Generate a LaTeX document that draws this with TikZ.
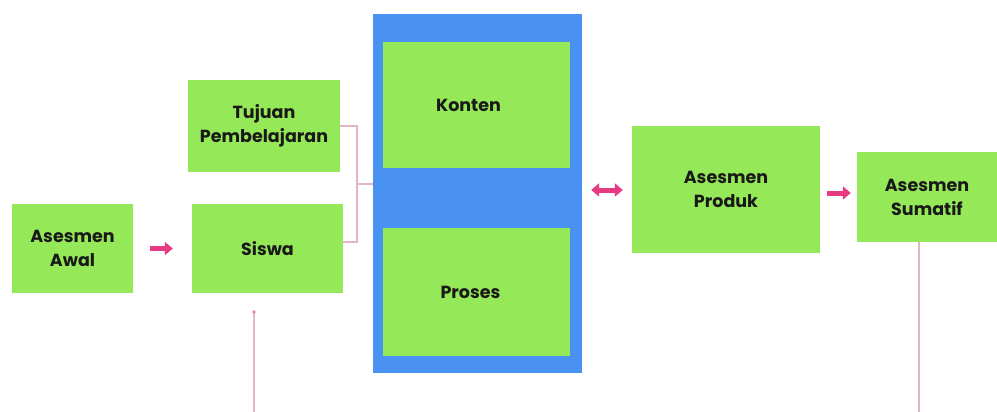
\documentclass[tikz,border=0pt]{standalone}
\usepackage{fontspec}
\setmainfont{Poppins}
\usetikzlibrary{arrows.meta}
\definecolor{boxgreen}{RGB}{149,232,88}
\definecolor{boxblue}{RGB}{74,146,242}
\definecolor{arrpink}{RGB}{232,58,130}
\definecolor{linepink}{RGB}{230,180,200}
\tikzset{
  gbox/.style={rectangle, fill=boxgreen, draw=none, inner sep=0pt, align=center,
    font=\fontsize{17.5}{24}\selectfont\bfseries, text=black!90},
  pinkarrow/.style={-{Triangle[length=8pt,width=13pt]}, line width=5pt, draw=arrpink},
  pinkdouble/.style={{Triangle[length=8pt,width=13pt]}-{Triangle[length=8pt,width=13pt]}, line width=5pt, draw=arrpink},
  thinline/.style={draw=linepink, line width=1.6pt},
}
\begin{document}
\begin{tikzpicture}[x=1pt,y=-1pt]
\useasboundingbox[fill=white] (0,0) rectangle (997,412);
% blue container
\node[rectangle, fill=boxblue, minimum width=209pt, minimum height=359pt, inner sep=0pt] (blue) at (477.5,193.5) {};
\node[gbox, minimum width=187pt, minimum height=126pt] (konten) at (476.5,105) {\hspace*{-16pt}Konten};
\node[gbox, minimum width=187pt, minimum height=128pt] (proses) at (476.5,292) {\hspace*{-12pt}Proses};
% left boxes
\node[gbox, minimum width=121pt, minimum height=89pt] (awal) at (72.5,248.5) {Asesmen\\Awal};
\node[gbox, minimum width=151pt, minimum height=89pt] (siswa) at (267.5,248.5) {Siswa};
\node[gbox, minimum width=152pt, minimum height=91pt] (tujuan) at (264,126) {Tujuan\\Pembelajaran};
% right boxes
\node[gbox, minimum width=188pt, minimum height=127pt] (produk) at (726,189.5) {Asesmen\\Produk};
\node[gbox, minimum width=140pt, minimum height=90pt] (sumatif) at (927,197) {Asesmen\\Sumatif};
% arrows
\draw[pinkarrow, shorten <=17pt, shorten >=19pt] (awal.east) -- (siswa.west);
\draw[pinkdouble, shorten <=9pt, shorten >=9pt] (blue.east |- 0,190) -- (produk.west |- 0,190);
\draw[pinkarrow, shorten <=7pt, shorten >=6pt] (produk.east |- 0,193) -- (sumatif.west |- 0,193);
% bracket
\coordinate (brk) at (357,184);
\draw[thinline] (tujuan.east) -| (brk) |- ([yshift=6.5pt]siswa.east);
\draw[thinline] (brk) -- (brk -| blue.west);
% bottom lines
\coordinate (stop) at (254,312);
\coordinate (sbot) at (254,412);
\draw[thinline] (sbot) -- (stop);
\fill[linepink!60!arrpink] (stop) circle (1.8pt);
\coordinate (sumtop) at ([xshift=-8pt]sumatif.south);
\coordinate (sumbot) at (sumtop |- 0,412);
\draw[thinline] (sumtop) -- (sumbot);
\end{tikzpicture}
\end{document}
